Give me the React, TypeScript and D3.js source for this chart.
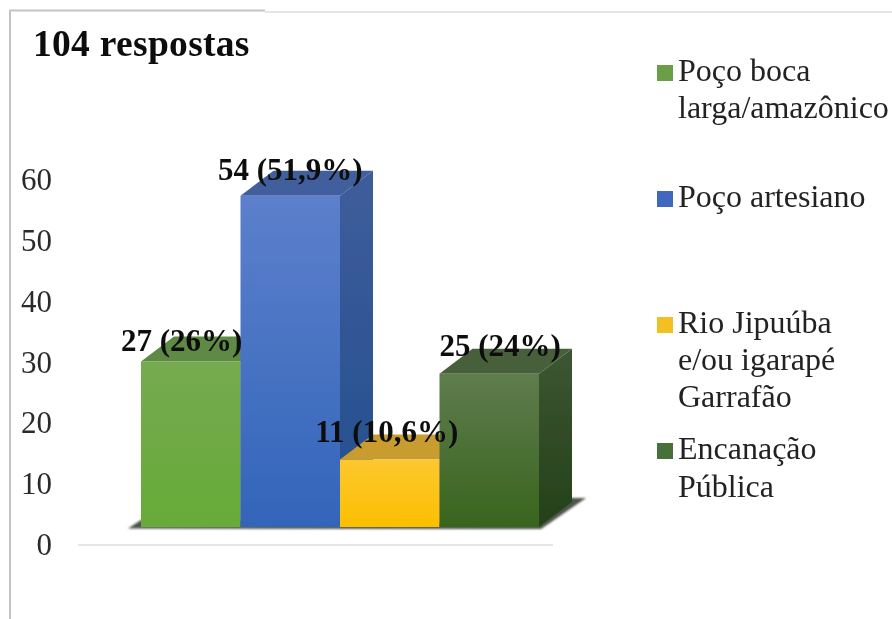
import React from "react";
import * as d3 from "d3";

const categories = ["Poço boca larga/amazônico", "Poço artesiano", "Rio Jipuúba e/ou igarapé Garrafão", "Encanação Pública"];
const values = [27, 54, 11, 25];
const percents = ["26%", "51,9%", "10,6%", "24%"];
const ticks = [0, 10, 20, 30, 40, 50, 60];
const legendLines = [["Poço boca", "larga/amazônico"], ["Poço artesiano"], ["Rio Jipuúba", "e/ou igarapé", "Garrafão"], ["Encanação", "Pública"]];
const frontTop = ["#75aa50", "#5c80cb", "#fdc730", "#5f7c4e"];
const frontBottom = ["#68ab38", "#3365ba", "#fcbf00", "#39641d"];
const topFace = ["#5f8a45", "#3f5e9c", "#c89c2e", "#465f3a"];
const sideTop = ["#4f7a38", "#3e5d9a", "#a07c1c", "#3c5632"];
const sideBottom = ["#3f6a28", "#234e8f", "#80600a", "#24411a"];
const swatches = ["#6a9f45", "#3f68bf", "#f3c021", "#47703a"];

const FONT = "'Liberation Serif', serif";
const baseY = 527, depthX = 33, depthY = 25;
const barScaleHeight = 368;
const labelDx = [-9, 0, -3, 11];
const labelDy = [10, 16, 18, 18];
const legendFirstBaseline = [81, 207, 333, 459];
const legendGaps = [37, 0, 37, 38];

export default function App() {
  const x = d3.scaleBand<string>().domain(categories).range([141, 539]).padding(0);
  const h = d3.scaleLinear().domain([0, 60]).range([0, barScaleHeight]);
  const axis = d3.scaleLinear().domain([0, 60]).range([555, 190]);
  const w = x.bandwidth();
  const line = d3.line();
  return (
    <svg width={892} height={619} style={{ position: "absolute", left: 0, top: 0, background: "#fff" }}>
      <defs>
        {categories.map((_, i) => (
          <React.Fragment key={i}>
            <linearGradient id={`f${i}`} x1="0" x2="0" y1="0" y2="1">
              <stop offset="0" stopColor={frontTop[i]} />
              <stop offset="1" stopColor={frontBottom[i]} />
            </linearGradient>
            <linearGradient id={`s${i}`} x1="0" x2="0" y1="0" y2="1">
              <stop offset="0" stopColor={sideTop[i]} />
              <stop offset="1" stopColor={sideBottom[i]} />
            </linearGradient>
          </React.Fragment>
        ))}
        <filter id="soft" x="-5%" y="-5%" width="110%" height="110%">
          <feGaussianBlur stdDeviation="0.45" />
        </filter>
        <filter id="shadow" x="-5%" y="-20%" width="110%" height="140%">
          <feGaussianBlur stdDeviation="1" />
        </filter>
      </defs>

      <path d="M10,619V10.5H265" fill="none" stroke="#c4c4c4" strokeWidth={2} />
      <path d="M265,12H892" fill="none" stroke="#dcdcdc" strokeWidth={1.5} />

      <line x1={78} x2={553} y1={545} y2={545} stroke="#dedede" strokeWidth={1.5} />
      <path d={line([[128, 528.5], [541, 529], [586, 498], [570, 498], [539, 524], [141, 520]]) + "Z"} fill="#4d5548" filter="url(#shadow)" />

      <g filter="url(#soft)">
        {categories.map((c, i) => {
          const x0 = x(c)!, x1 = x0 + w, t = baseY - h(values[i]);
          return (
            <g key={c}>
              <path d={line([[x1, t], [x1 + depthX, t - depthY], [x1 + depthX, baseY - depthY], [x1, baseY]]) + "Z"} fill={`url(#s${i})`} />
              <path d={line([[x0, t], [x0 + depthX, t - depthY], [x1 + depthX, t - depthY], [x1, t]]) + "Z"} fill={topFace[i]} />
              <rect x={x0} y={t} width={w} height={baseY - t} fill={`url(#f${i})`} />
            </g>
          );
        })}
      </g>

      <g filter="url(#soft)" fontFamily={FONT} fill="#111">
        <text x={33} y={55.5} fontSize={37.5} fontWeight="bold" letterSpacing={0.3}>104 respostas</text>

        {ticks.map((t) => (
          <text key={t} x={52} y={axis(t)} fontSize={31} textAnchor="end" fill="#2a2a2a">{t}</text>
        ))}

        {categories.map((c, i) => (
          <text key={c} x={x(c)! + w / 2 + labelDx[i]} y={baseY - h(values[i]) - labelDy[i]} fontSize={31} fontWeight="bold" textAnchor="middle">
            {`${values[i]} (${percents[i]})`}
          </text>
        ))}

        {legendLines.map((lines, i) => (
          <g key={i}>
            <rect x={657} y={legendFirstBaseline[i] - 16} width={16} height={16} fill={swatches[i]} />
            {lines.map((l, j) => (
              <text key={j} x={678} y={legendFirstBaseline[i] + j * legendGaps[i]} fontSize={32} fill="#222">{l}</text>
            ))}
          </g>
        ))}
      </g>
    </svg>
  );
}
